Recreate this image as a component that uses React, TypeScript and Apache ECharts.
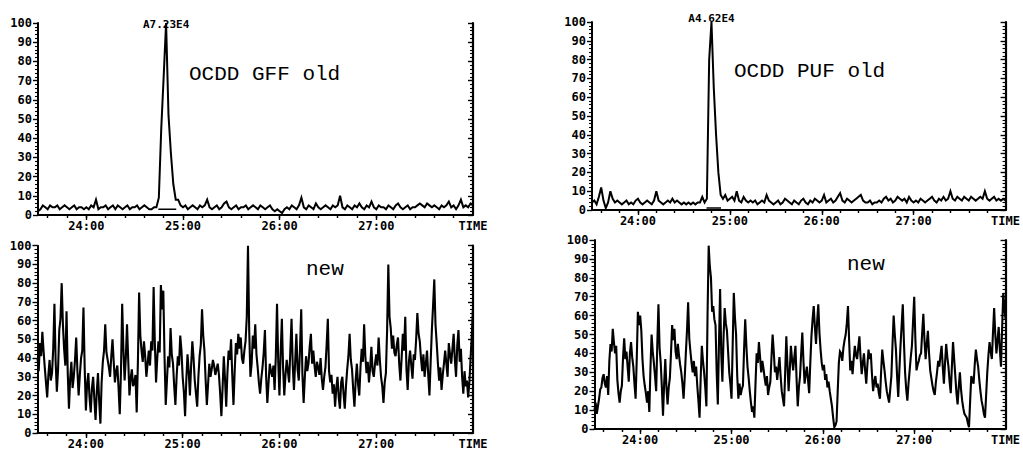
import React, { useEffect, useRef } from "react";
import * as echarts from "echarts";

// Sampling of the traces (minutes)
const T0 = 23.5;
const STEP_OLD = 0.025;
const STEP_NEW = 0.0125;

// OCDD GFF old (top-left), relative intensity %
const gffOld = [
  2, 3, 5, 4, 3, 5, 4, 4, 5, 3,
  4, 5, 4, 3, 4, 5, 3, 4, 4, 3,
  4, 3, 5, 4, 8, 3, 4, 4, 5, 3,
  4, 5, 3, 5, 4, 3, 4, 5, 3, 4,
  4, 5, 3, 4, 5, 4, 3, 3, 4,
  4, 9, 45, 72, 100, 52, 32, 16, 8, 8,
  5, 4, 5, 3, 4, 5, 4, 3, 5, 4, 5,
  8, 4, 3, 4, 5, 3, 4, 6, 7, 4,
  3, 4, 5, 3, 4, 4, 5, 3, 4, 5,
  4, 3, 5, 4, 3, 4, 5, 3, 2, 3,
  2, 1, 3, 4, 3, 5, 4, 3, 5, 9,
  4, 3, 5, 4, 3, 6, 4, 3, 4, 5,
  4, 3, 5, 4, 5, 10, 4, 3, 5, 4,
  3, 5, 4, 6, 4, 3, 5, 4, 7, 4,
  3, 5, 4, 4, 3, 5, 4, 3, 5, 6,
  4, 3, 4, 5, 3, 4, 4, 5, 6, 5,
  4, 6, 5, 4, 5, 4, 3, 5, 4, 5,
  7, 4, 5, 3, 5, 8, 4, 5, 4, 6, 5,
];

// OCDD PUF old (top-right)
const pufOld = [
  4, 5, 3, 7, 12, 5, 1, 4, 10, 6,
  4, 5, 4, 3, 4, 5, 3, 4, 3, 5,
  6, 4, 3, 4, 5, 4, 3, 5, 10, 5,
  4, 3, 4, 5, 4, 6, 4, 5, 4, 3,
  4, 3, 4, 3, 4, 3, 4, 4, 7, 4,
  6, 80, 100, 65, 40, 20, 8, 6,
  8, 5, 6, 7, 5, 10, 5, 4, 7, 5, 4, 5,
  4, 5, 3, 4, 5, 4, 8, 5, 4, 3,
  4, 5, 3, 4, 6, 5, 4, 3, 5, 4,
  3, 5, 6, 4, 3, 5, 4, 6, 5, 4,
  5, 8, 4, 5, 6, 4, 5, 7, 9, 5,
  4, 6, 5, 4, 5, 6, 7, 8, 5, 4,
  4, 5, 3, 4, 4, 5, 4, 6, 7, 5,
  6, 4, 5, 7, 6, 5, 6, 4, 7, 5,
  4, 5, 4, 6, 5, 4, 5, 6, 7, 5,
  4, 6, 5, 7, 5, 6, 10, 6, 5, 7,
  6, 5, 7, 6, 5, 7, 6, 5, 6, 7,
  6, 10, 6, 5, 6, 7, 5, 6, 5, 6, 5,
];

// GFF new (bottom-left), finer sampling
const gffNew = [
  40, 33, 48, 41, 54, 44, 35, 27, 19, 31, 39, 28, 32, 45, 69, 38, 22, 34, 55, 61,
  80, 58, 45, 36, 65, 32, 13, 29, 38, 24, 30, 39, 51, 33, 20, 31, 40, 44, 67, 35,
  12, 26, 32, 19, 11, 24, 30, 18, 7, 22, 32, 17, 5, 27, 38, 44, 58, 43, 39, 35,
  30, 41, 50, 38, 27, 33, 36, 24, 10, 33, 69, 45, 28, 40, 58, 39, 20, 29, 34, 25,
  27, 31, 11, 38, 75, 52, 44, 38, 49, 41, 30, 37, 44, 36, 49, 44, 78, 48, 27, 40,
  49, 43, 79, 66, 76, 41, 15, 28, 41, 35, 56, 42, 37, 25, 15, 30, 41, 36, 52, 44,
  30, 22, 9, 28, 42, 33, 20, 36, 49, 40, 28, 21, 14, 30, 41, 47, 66, 52, 44, 28,
  15, 26, 37, 30, 34, 39, 36, 31, 34, 37, 31, 21, 9, 24, 41, 29, 14, 32, 44, 39,
  50, 31, 15, 33, 48, 42, 53, 45, 51, 40, 37, 44, 49, 62, 100, 55, 30, 37, 52, 45,
  58, 42, 35, 27, 21, 29, 35, 43, 55, 30, 16, 27, 37, 33, 30, 36, 23, 41, 69, 38,
  20, 43, 61, 35, 20, 31, 39, 33, 27, 44, 61, 36, 23, 38, 53, 34, 28, 45, 66, 31,
  16, 30, 41, 33, 37, 46, 53, 37, 44, 36, 30, 38, 35, 31, 40, 29, 23, 30, 35, 47,
  61, 33, 27, 31, 21, 26, 14, 24, 30, 19, 13, 27, 30, 21, 13, 25, 34, 41, 53, 39,
  34, 23, 14, 28, 37, 26, 20, 35, 45, 38, 58, 41, 32, 38, 27, 35, 46, 33, 30, 37,
  42, 36, 51, 39, 30, 25, 16, 27, 32, 55, 90, 62, 56, 45, 52, 43, 41, 47, 51, 37,
  28, 40, 53, 44, 62, 34, 23, 38, 44, 36, 29, 42, 39, 50, 64, 53, 49, 40, 33, 42,
  30, 37, 44, 31, 20, 38, 55, 68, 82, 58, 48, 37, 28, 35, 23, 31, 37, 44, 37, 30,
  48, 42, 37, 45, 53, 39, 30, 47, 55, 38, 45, 30, 21, 33, 25, 28, 19, 27, 40, 52,
  67,
];

// PUF new (bottom-right), finer sampling
const pufNew = [
  10, 14, 8, 12, 16, 21, 22, 27, 29, 24, 22, 28, 18, 36, 45, 41, 53, 46, 40, 44,
  26, 19, 14, 20, 23, 38, 48, 37, 41, 33, 25, 40, 46, 38, 33, 24, 16, 37, 62, 55,
  60, 52, 37, 28, 23, 19, 14, 20, 9, 32, 50, 41, 35, 28, 20, 45, 66, 43, 35, 22,
  7, 24, 37, 22, 13, 22, 27, 40, 55, 47, 53, 41, 37, 45, 39, 34, 30, 24, 16, 27,
  40, 52, 67, 48, 41, 35, 30, 36, 28, 33, 23, 15, 6, 27, 44, 36, 30, 22, 12, 60,
  97, 86, 80, 62, 65, 58, 55, 30, 13, 45, 74, 40, 25, 48, 64, 56, 52, 41, 30, 24,
  16, 44, 72, 59, 50, 28, 16, 24, 18, 21, 23, 42, 58, 44, 33, 27, 20, 14, 9, 12,
  6, 24, 40, 35, 46, 38, 30, 36, 32, 27, 23, 28, 18, 22, 25, 38, 50, 41, 30, 33,
  26, 32, 38, 28, 20, 16, 12, 30, 49, 34, 20, 31, 44, 37, 31, 38, 44, 26, 12, 22,
  28, 40, 51, 36, 24, 29, 33, 26, 19, 35, 49, 58, 65, 54, 45, 57, 66, 51, 42, 35,
  31, 34, 26, 29, 22, 25, 20, 16, 12, 6, 1, 2, 4, 20, 35, 41, 40, 36, 43, 47,
  50, 56, 65, 47, 31, 36, 29, 37, 44, 39, 37, 43, 49, 38, 29, 35, 40, 31, 24, 34,
  42, 37, 40, 29, 20, 25, 28, 22, 24, 19, 16, 30, 42, 36, 31, 25, 20, 17, 14, 21,
  28, 45, 60, 50, 42, 28, 17, 31, 44, 55, 66, 46, 30, 21, 15, 24, 31, 38, 44, 57,
  70, 48, 31, 34, 36, 39, 40, 51, 61, 47, 37, 45, 52, 40, 31, 27, 23, 20, 18, 25,
  30, 36, 33, 39, 44, 33, 24, 35, 45, 38, 33, 25, 19, 33, 46, 37, 28, 19, 13, 22,
  30, 21, 15, 11, 8, 7, 6, 3, 1, 15, 28, 26, 24, 34, 42, 37, 33, 26, 20, 15,
  12, 8, 6, 18, 30, 39, 46, 41, 37, 51, 64, 50, 40, 47, 54, 42, 33, 53, 72, 64,
  58,
];

// integration baselines under the peaks [time, intensity]
const gffOldBase = [[24.745, 3], [24.93, 3]];
const pufOldBase = [[24.746, 1], [24.904, 1]];

const peakLabels = ["A7.23E4", "A4.62E4"];
const panelTitles = ["OCDD GFF old", "OCDD PUF old", "new", "new"];

const timeLabelValues = [24, 25, 26, 27, 28];
const majorTimeTicks = [24, 25, 26, 27];
const minorTimeTicks = [
  23.6, 23.8, 24.0, 24.2, 24.4, 24.6, 24.8, 25.0, 25.2, 25.4, 25.6, 25.8,
  26.0, 26.2, 26.4, 26.6, 26.8, 27.0, 27.2, 27.4, 27.6, 27.8,
];

const toPairs = (vals: number[], step: number) =>
  vals.map((v, i) => [Math.round((T0 + i * step) * 10000) / 10000, v]);

const BLACK = "#000";
const TICK_FONT = "DejaVu Sans Mono";

export default function App() {
  const ref = useRef<HTMLDivElement>(null);

  useEffect(() => {
    if (!ref.current) return;
    const chart = echarts.init(ref.current, null, { renderer: "svg" });

    const grids = [
      { left: 38, top: 23, width: 435, height: 192 },
      { left: 592, top: 22, width: 426, height: 188 },
      { left: 37.5, top: 245.7, width: 435.5, height: 190 },
      { left: 594.5, top: 240, width: 425, height: 189 },
    ];

    const xAxes: any[] = [];
    const yAxes: any[] = [];
    grids.forEach((_, g) => {
      xAxes.push({
        type: "value",
        gridIndex: g,
        position: "bottom",
        min: 23.5,
        max: 28,
        axisLine: { show: true, lineStyle: { color: BLACK, width: 2 } },
        axisTick: {
          show: true,
          customValues: minorTimeTicks,
          length: 3,
          lineStyle: { color: BLACK, width: 1.4 },
        },
        axisLabel: {
          show: true,
          customValues: timeLabelValues,
          formatter: (v: number) => (v === 28 ? "TIME" : `${v}:00`),
          color: BLACK,
          fontFamily: TICK_FONT,
          fontWeight: "bold",
          fontSize: 12,
          margin: 5,
        },
        splitLine: { show: false },
      });
      xAxes.push({
        type: "value",
        gridIndex: g,
        position: "bottom",
        min: 23.5,
        max: 28,
        axisLine: { show: false },
        axisTick: {
          show: true,
          customValues: majorTimeTicks,
          length: 5,
          lineStyle: { color: BLACK, width: 1.4 },
        },
        axisLabel: { show: false },
        splitLine: { show: false },
      });
      yAxes.push({
        type: "value",
        gridIndex: g,
        position: "left",
        min: 0,
        max: 100,
        interval: 10,
        axisLine: { show: true, lineStyle: { color: BLACK, width: 2 } },
        axisTick: { show: true, length: 5, lineStyle: { color: BLACK, width: 1.4 } },
        minorTick: { show: true, splitNumber: 5, length: 3, lineStyle: { color: BLACK, width: 1.1 } },
        axisLabel: {
          color: BLACK,
          fontFamily: TICK_FONT,
          fontWeight: "bold",
          fontSize: 12,
          margin: 6,
          padding: [0, 0, 3, 0],
        },
        splitLine: { show: false },
        minorSplitLine: { show: false },
      });
      yAxes.push({
        type: "value",
        gridIndex: g,
        position: "right",
        min: 0,
        max: 100,
        interval: 10,
        axisLine: { show: true, lineStyle: { color: BLACK, width: 2.2 } },
        axisTick: { show: true, inside: true, length: 5, lineStyle: { color: BLACK, width: 1.4 } },
        minorTick: { show: true, splitNumber: 5, length: 3, lineStyle: { color: BLACK, width: 1.1 } },
        axisLabel: { show: false },
        splitLine: { show: false },
        minorSplitLine: { show: false },
      });
    });

    const traces = [
      { vals: gffOld, step: STEP_OLD, width: 2 },
      { vals: pufOld, step: STEP_OLD, width: 2 },
      { vals: gffNew, step: STEP_NEW, width: 2.1 },
      { vals: pufNew, step: STEP_NEW, width: 2.1 },
    ];
    const series: any[] = traces.map((tr, g) => {
      const s: any = {
        type: "line",
        xAxisIndex: 2 * g,
        yAxisIndex: 2 * g,
        data: toPairs(tr.vals, tr.step),
        symbol: "none",
        showSymbol: false,
        lineStyle: { color: BLACK, width: tr.width, join: "miter" },
        z: 3,
      };
      if (g < 2) {
        s.markPoint = {
          symbol: "circle",
          symbolSize: 1,
          itemStyle: { color: "rgba(0,0,0,0)" },
          label: {
            show: true,
            position: "inside",
            offset: g === 0 ? [0, 1] : [0, -4],
            formatter: peakLabels[g],
            color: BLACK,
            fontFamily: TICK_FONT,
            fontWeight: "bold",
            fontSize: 11,
          },
          data: [{ type: "max", name: "peak" }],
        };
      }
      return s;
    });
    [gffOldBase, pufOldBase].forEach((base, g) => {
      series.push({
        type: "line",
        xAxisIndex: 2 * g,
        yAxisIndex: 2 * g,
        data: base,
        symbol: "none",
        showSymbol: false,
        lineStyle: { color: BLACK, width: 1.5 },
        z: 2,
      });
    });

    const titlePos = [
      [189, 74],
      [734, 71],
      [306, 269],
      [847, 264],
    ];
    const graphic = panelTitles.map((t, k) => ({
      type: "text",
      x: titlePos[k][0],
      y: titlePos[k][1],
      style: {
        text: t,
        font: '21px "Liberation Mono", "DejaVu Sans Mono", monospace',
        fill: BLACK,
        verticalAlign: "middle",
      },
    }));

    chart.setOption({
      animation: false,
      backgroundColor: "#fff",
      grid: grids,
      xAxis: xAxes,
      yAxis: yAxes,
      series,
      graphic,
    });

    return () => chart.dispose();
  }, []);

  return (
    <div
      ref={ref}
      style={{ position: "fixed", left: 0, top: 0, width: 1023, height: 450 }}
    />
  );
}
